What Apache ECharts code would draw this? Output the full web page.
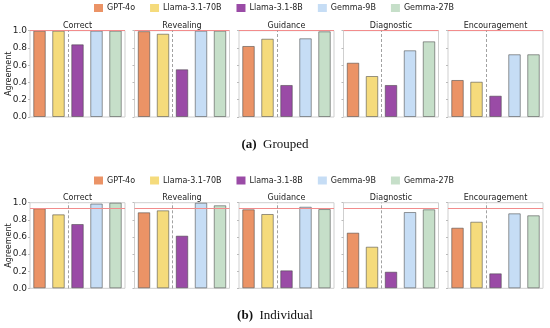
<!DOCTYPE html>
<html>
<head>
<meta charset="utf-8">
<script src="https://cdn.jsdelivr.net/npm/echarts@6/dist/echarts.min.js"></script>
<style>
  html, body { margin: 0; padding: 0; background: #fff; }
  #chart { width: 550px; height: 328px; }
</style>
</head>
<body>
<div id="chart"></div>
<script>
// ---------------- data ----------------
const panels = ['Correct', 'Revealing', 'Guidance', 'Diagnostic', 'Encouragement'];
const models = ['GPT-4o', 'Llama-3.1-70B', 'Llama-3.1-8B', 'Gemma-9B', 'Gemma-27B'];
const yTicks = [0.0, 0.2, 0.4, 0.6, 0.8, 1.0];

// (a) Grouped — values per model, one per panel
const groupedGPT4o     = [1.00, 0.995, 0.823, 0.629, 0.429];
const groupedLlama70B  = [1.00, 0.965, 0.907, 0.475, 0.409];
const groupedLlama8B   = [0.842, 0.553, 0.371, 0.371, 0.247];
const groupedGemma9B   = [1.00, 1.00, 0.912, 0.773, 0.727];
const groupedGemma27B  = [1.00, 1.00, 0.993, 0.877, 0.727];
const groupedReference = 1.0;

// (b) Individual — values per model, one per panel
const individualGPT4o     = [0.935, 0.888, 0.923, 0.650, 0.708];
const individualLlama70B  = [0.864, 0.911, 0.868, 0.486, 0.778];
const individualLlama8B   = [0.751, 0.615, 0.210, 0.194, 0.175];
const individualGemma9B   = [0.990, 1.000, 0.953, 0.891, 0.876];
const individualGemma27B  = [1.000, 0.970, 0.926, 0.923, 0.853];
const individualReference = 0.935;

// divider sits between model index 1 and 2
const dividerAfterIndex = 1;

// ---------------- styling / layout ----------------
const colors = ['#EB9366', '#F5DB7C', '#9A4BA6', '#C6DDF5', '#C6DFC9'];
const edge = 'rgba(70,70,70,0.55)';
const FONT = 'DejaVu Sans';
const panelLeft0 = 30, panelW = 95, panelStep = 104.5;
const rows = [
  { name: 'grouped', top: 30.7, height: 86.3, legendTop: 4, titleY: 26,
    values: [groupedGPT4o, groupedLlama70B, groupedLlama8B, groupedGemma9B, groupedGemma27B],
    ref: groupedReference },
  { name: 'individual', top: 202.7, height: 85.6, legendTop: 176.5, titleY: 198,
    values: [individualGPT4o, individualLlama70B, individualLlama8B, individualGemma9B, individualGemma27B],
    ref: individualReference }
];

const grid = [], xAxis = [], yAxis = [], series = [], legend = [], graphic = [];
rows.forEach((row, r) => {
  legend.push({
    top: row.legendTop, left: 94, padding: 0, itemWidth: 9, itemHeight: 8, itemGap: 15,
    icon: 'rect', data: models, itemStyle: { borderWidth: 0 },
    textStyle: { fontFamily: FONT, fontSize: 8, color: '#222', padding: [0, 0, 0, -1] }
  });
  graphic.push({ type: 'text', x: 9, y: row.top + row.height / 2, rotation: Math.PI / 2, silent: true,
    style: { text: 'Agreement', textAlign: 'center', textVerticalAlign: 'middle',
      fontFamily: FONT, fontSize: 8, fill: '#222' } });
  panels.forEach((p, k) => {
    const gi = r * panels.length + k;
    const left = panelLeft0 + k * panelStep;
    grid.push({ left: left, top: row.top, width: panelW, height: row.height,
      show: true, borderColor: '#cfcfcf', borderWidth: 1, backgroundColor: 'transparent' });
    graphic.push({ type: 'text', x: left + panelW / 2, y: row.titleY, silent: true,
      style: { text: p, textAlign: 'center', textVerticalAlign: 'middle',
        fontFamily: FONT, fontSize: 8, fill: '#222' } });
    xAxis.push({ gridIndex: gi, type: 'value', min: -0.5, max: models.length - 0.5,
      show: false, splitLine: { show: false } });
    yAxis.push({ gridIndex: gi, type: 'value', min: yTicks[0], max: yTicks[yTicks.length - 1], interval: 0.2,
      axisLine: { show: false, onZero: false }, splitLine: { show: false },
      axisTick: { show: true, length: 2, lineStyle: { color: '#bbb' } },
      axisLabel: { show: k === 0, margin: 3, fontFamily: FONT, fontSize: 9, color: '#222',
        formatter: v => v.toFixed(1) } });
    // reference lines (behind bars)
    series.push({ type: 'line', xAxisIndex: gi, yAxisIndex: gi, data: [], silent: true, z: 1,
      markLine: { silent: true, symbol: 'none', label: { show: false }, animation: false,
        data: [
          { yAxis: row.ref, lineStyle: { color: '#F28C8C', width: 1, type: 'solid' } },
          { xAxis: dividerAfterIndex + 0.5, lineStyle: { color: '#8a8a8a', width: 0.8, type: [3, 2] } }
        ] } });
    models.forEach((m, i) => {
      series.push({ type: 'bar', name: m, xAxisIndex: gi, yAxisIndex: gi,
        barWidth: 12.5, barGap: '-100%', z: 2, animation: false,
        itemStyle: { color: colors[i], borderColor: edge, borderWidth: 1 },
        data: [[i, row.values[i][k]]] });
    });
  });
});

graphic.push(
  { type: 'text', left: 'center', top: 138, style: {
    text: '{b|(a)}  Grouped', fontFamily: 'Liberation Serif', fontSize: 13, fill: '#111',
    rich: { b: { fontFamily: 'Liberation Serif', fontSize: 13, fontWeight: 'bold', fill: '#111' } } } },
  { type: 'text', left: 'center', top: 309, style: {
    text: '{b|(b)}  Individual', fontFamily: 'Liberation Serif', fontSize: 13, fill: '#111',
    rich: { b: { fontFamily: 'Liberation Serif', fontSize: 13, fontWeight: 'bold', fill: '#111' } } } }
);

const chart = echarts.init(document.getElementById('chart'), null, { renderer: 'canvas' });
chart.setOption({
  animation: false,
  color: colors,
  legend: legend, grid: grid, xAxis: xAxis, yAxis: yAxis, series: series,
  graphic: graphic
});
</script>
</body>
</html>
